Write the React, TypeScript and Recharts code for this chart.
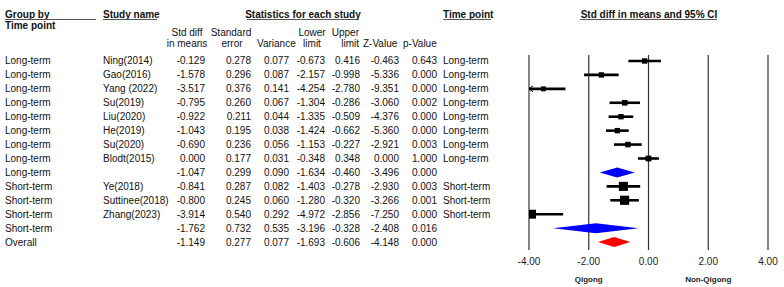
import { ScatterChart, Scatter, XAxis, YAxis, CartesianGrid, ReferenceLine } from 'recharts';

// rows of the forest plot, top to bottom
const timePoint = [
  'Long-term', 'Long-term', 'Long-term', 'Long-term', 'Long-term', 'Long-term', 'Long-term', 'Long-term', 'Long-term',
  'Short-term', 'Short-term', 'Short-term', 'Short-term', 'Overall',
];
const studyNames = [
  'Ning(2014)', 'Gao(2016)', 'Yang (2022)', 'Su(2019)', 'Liu(2020)', 'He(2019)', 'Su(2020)', 'Blodt(2015)', '',
  'Ye(2018)', 'Suttinee(2018)', 'Zhang(2023)', '', '',
];
const rowKind = [
  'study', 'study', 'study', 'study', 'study', 'study', 'study', 'study', 'subgroup',
  'study', 'study', 'study', 'subgroup', 'overall',
];
const stdDiff = [-0.129, -1.578, -3.517, -0.795, -0.922, -1.043, -0.69, 0.0, -1.047, -0.841, -0.8, -3.914, -1.762, -1.149];
const stdErr = [0.278, 0.296, 0.376, 0.26, 0.211, 0.195, 0.236, 0.177, 0.299, 0.287, 0.245, 0.54, 0.732, 0.277];
const variance = [0.077, 0.087, 0.141, 0.067, 0.044, 0.038, 0.056, 0.031, 0.09, 0.082, 0.06, 0.292, 0.535, 0.077];
const lowerLimit = [-0.673, -2.157, -4.254, -1.304, -1.335, -1.424, -1.153, -0.348, -1.634, -1.403, -1.28, -4.972, -3.196, -1.693];
const upperLimit = [0.416, -0.998, -2.78, -0.286, -0.509, -0.662, -0.227, 0.348, -0.46, -0.278, -0.32, -2.856, -0.328, -0.606];
const zValue = [-0.463, -5.336, -9.351, -3.06, -4.376, -5.36, -2.921, 0.0, -3.496, -2.93, -3.266, -7.25, -2.408, -4.148];
const pValue = [0.643, 0.0, 0.0, 0.002, 0.0, 0.0, 0.003, 1.0, 0.0, 0.003, 0.001, 0.0, 0.016, 0.0];
const relWeight = [12, 12, 10, 13, 12, 12, 13, 14, 0, 34, 35, 33, 0, 0];

const xTicks = [-4, -2, 0, 2, 4];
const favours: Record<string, string> = { '-2': 'Qigong', '2': 'Non-Qigong' };

const X_MIN = -4;
const X_MAX = 4;
const FONT = '"Liberation Sans", Arial, sans-serif';

const rows = stdDiff.map((est, i) => ({
  row: i,
  est,
  lo: lowerLimit[i],
  hi: upperLimit[i],
  kind: rowKind[i],
  w: relWeight[i],
}));
const studyRows = rows.filter((r) => r.kind === 'study');
const summaryRows = rows.filter((r) => r.kind !== 'study');

// table column x positions
const cols = {
  group: 5,
  study: 103,
  est: 205,
  se: 251,
  vr: 289,
  lo: 325,
  hi: 360,
  z: 399,
  p: 437,
  tp: 443,
};

function RowTick(props: any) {
  const i = props.payload.value;
  const y = props.y + 3.5;
  const f = (v: number) => v.toFixed(3);
  const common = { y, fontSize: 10, fontFamily: FONT, fill: '#111' };
  return (
    <g>
      <text {...common} x={cols.group}>{timePoint[i]}</text>
      <text {...common} x={cols.study}>{studyNames[i]}</text>
      <text {...common} x={cols.est} textAnchor="end">{f(stdDiff[i])}</text>
      <text {...common} x={cols.se} textAnchor="end">{f(stdErr[i])}</text>
      <text {...common} x={cols.vr} textAnchor="end">{f(variance[i])}</text>
      <text {...common} x={cols.lo} textAnchor="end">{f(lowerLimit[i])}</text>
      <text {...common} x={cols.hi} textAnchor="end">{f(upperLimit[i])}</text>
      <text {...common} x={cols.z} textAnchor="end">{f(zValue[i])}</text>
      <text {...common} x={cols.p} textAnchor="end">{f(pValue[i])}</text>
      <text {...common} x={cols.tp}>{rowKind[i] === 'study' ? timePoint[i] : ''}</text>
    </g>
  );
}

function AxisTick(props: any) {
  const v = props.payload.value;
  const side = favours[String(v)];
  return (
    <g>
      <text x={props.x} y={props.y + 12.5} textAnchor="middle" fontSize={10} fontFamily={FONT} fill="#222">
        {v.toFixed(2)}
      </text>
      {side && (
        <text x={props.x} y={props.y + 29.5} textAnchor="middle" fontSize={8} fontWeight="bold" fontFamily={FONT} fill="#222">
          {side}
        </text>
      )}
    </g>
  );
}

function Square(props: any) {
  const s = 1.55 * Math.sqrt(props.payload.w);
  return <rect x={props.cx - s / 2} y={props.cy - s / 2} width={s} height={s} fill="#000" />;
}

function CiLine(clippedLeft: boolean) {
  return (p: any) => (
    <g>
      <line x1={p.x1} y1={p.y1} x2={p.x2} y2={p.y2} stroke="#000" strokeWidth={2.6} />
      {clippedLeft && (
        <path d={`M${p.x1 + 4},${p.y1 - 3} L${p.x1},${p.y1} L${p.x1 + 4},${p.y1 + 3}`} fill="none" stroke="#000" strokeWidth={1} />
      )}
    </g>
  );
}

function Diamond(color: string) {
  return (p: any) => {
    const mid = (p.x1 + p.x2) / 2;
    return (
      <polygon
        points={`${p.x1},${p.y1} ${mid},${p.y1 - 5} ${p.x2},${p.y1} ${mid},${p.y1 + 5}`}
        fill={color}
        stroke="none"
      />
    );
  };
}

function Header() {
  const b = { fontSize: 10, fontFamily: FONT, fontWeight: 'bold' as const, fill: '#111' };
  const n = { fontSize: 10, fontFamily: FONT, fill: '#111' };
  const ul = { stroke: '#555', strokeWidth: 1 };
  return (
    <svg width={784} height={60} style={{ position: 'absolute', left: 0, top: 0, pointerEvents: 'none' }}>
      <text {...b} x={5} y={17.5}>Group by</text>
      <line {...ul} x1={5} x2={96} y1={19.5} y2={19.5} />
      <text {...b} x={5} y={28.5}>Time point</text>
      <text {...b} x={103} y={17.5}>Study name</text>
      <line {...ul} x1={103} x2={157} y1={19.5} y2={19.5} />
      <text {...b} x={303} y={17.5} textAnchor="middle">Statistics for each study</text>
      <line {...ul} x1={247} x2={359} y1={19.5} y2={19.5} />
      <text {...b} x={443} y={17.5}>Time point</text>
      <line {...ul} x1={443} x2={491} y1={19.5} y2={19.5} />
      <text {...b} x={649} y={17.5} textAnchor="middle">Std diff in means and 95% CI</text>
      <line {...ul} x1={580} x2={717} y1={19.5} y2={19.5} />

      <text {...n} x={187} y={35.5} textAnchor="middle">Std diff</text>
      <text {...n} x={187} y={46.5} textAnchor="middle">in means</text>
      <text {...n} x={231} y={35.5} textAnchor="middle">Standard</text>
      <text {...n} x={232} y={46.5} textAnchor="middle">error</text>
      <text {...n} x={257} y={46.5}>Variance</text>
      <text {...n} x={312} y={35.5} textAnchor="middle">Lower</text>
      <text {...n} x={312} y={46.5} textAnchor="middle">limit</text>
      <text {...n} x={359} y={35.5} textAnchor="end">Upper</text>
      <text {...n} x={359} y={46.5} textAnchor="end">limit</text>
      <text {...n} x={363} y={46.5}>Z-Value</text>
      <text {...n} x={403} y={46.5}>p-Value</text>
    </svg>
  );
}

export default function App() {
  return (
    <div style={{ position: 'absolute', left: 0, top: 0, width: 784, height: 287, background: '#fff' }}>
      <ScatterChart width={784} height={287} margin={{ top: 55, right: 16, bottom: 7, left: 0 }}>
        <CartesianGrid horizontal={false} stroke="#333" strokeWidth={1.2} />
        <XAxis
          type="number"
          dataKey="est"
          domain={[X_MIN, X_MAX]}
          ticks={xTicks}
          height={30}
          axisLine={false}
          tickLine={false}
          tickSize={0}
          tick={<AxisTick />}
          allowDataOverflow
        />
        <YAxis
          type="number"
          dataKey="row"
          domain={[-0.43, 13.57]}
          ticks={rows.map((r) => r.row)}
          interval={0}
          reversed
          width={529}
          axisLine={false}
          tickLine={false}
          tickSize={0}
          tick={<RowTick />}
          allowDataOverflow
        />
        {studyRows.map((r) => (
          <ReferenceLine
            key={`ci-${r.row}`}
            segment={[
              { x: Math.max(r.lo, X_MIN), y: r.row },
              { x: Math.min(r.hi, X_MAX), y: r.row },
            ]}
            shape={CiLine(r.lo < X_MIN)}
          />
        ))}
        {summaryRows.map((r) => (
          <ReferenceLine
            key={`dm-${r.row}`}
            segment={[
              { x: r.lo, y: r.row },
              { x: r.hi, y: r.row },
            ]}
            shape={Diamond(r.kind === 'overall' ? '#ff0000' : '#0000ff')}
          />
        ))}
        <Scatter data={studyRows} shape={<Square />} isAnimationActive={false} />
      </ScatterChart>
      <Header />
    </div>
  );
}
